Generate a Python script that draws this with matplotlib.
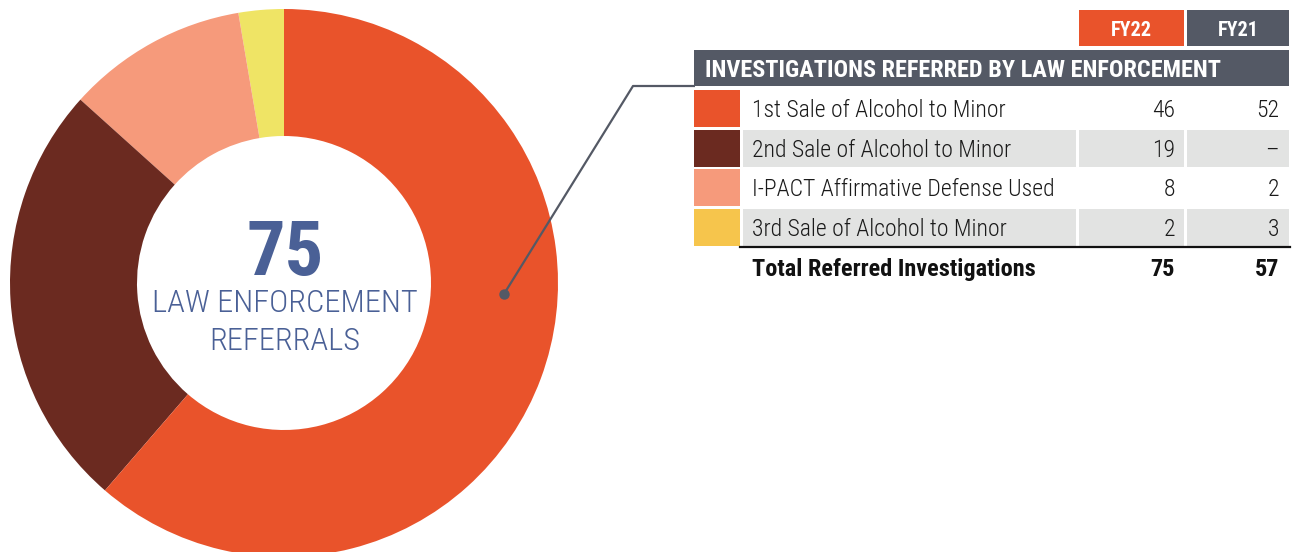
import matplotlib
matplotlib.use("Agg")
import matplotlib.pyplot as plt
from matplotlib.patches import Rectangle

# data, in table order
categories = ["1st Sale of Alcohol to Minor", "2nd Sale of Alcohol to Minor",
              "I-PACT Affirmative Defense Used", "3rd Sale of Alcohol to Minor"]
fy22 = [46, 19, 8, 2]
fy21 = [52, None, 2, 3]
years = ["FY22", "FY21"]
table_title = "INVESTIGATIONS REFERRED BY LAW ENFORCEMENT"
total_label = "Total Referred Investigations"

donut_colors = ["#E9532B", "#6B2A20", "#F69A7B", "#EFE465"]
swatch_colors = ["#E9532B", "#6B2A20", "#F69A7B", "#F6C54C"]
year_colors = ["#E9532B", "#545965"]
GRAY = "#545965"
LIGHT = "#E2E3E2"
NAVY = "#4A6096"
FONT = ["Roboto Condensed", "Archivo Narrow", "DejaVu Sans"]

W, H = 1292, 552
fig = plt.figure(figsize=(W / 100, H / 100), dpi=100)
ax = fig.add_axes([0, 0, 1, 1])


def py(y):
    # pixel row (top down) -> data y (bottom up)
    return H - y


def txt(x, y, s, size, weight="normal", color="#1a1a1a", ha="left", **kw):
    return ax.text(x, py(y), s, family=FONT, fontstretch="condensed",
                   fontsize=size, fontweight=weight, color=color, ha=ha,
                   va="baseline", **kw)


# donut, drawn counterclockwise from 12 o'clock starting with the smallest slice
ax.pie(fy22[::-1], colors=donut_colors[::-1], startangle=90, counterclock=True,
       center=(284, py(283)), radius=274,
       wedgeprops=dict(width=127, linewidth=0))
ax.set_xlim(0, W)
ax.set_ylim(0, H)
ax.set_aspect("equal")
ax.axis("off")

total22 = sum(v for v in fy22 if v is not None)
total21 = sum(v for v in fy21 if v is not None)

txt(285, 275, str(total22), 55, weight="bold", color=NAVY, ha="center")
txt(285, 312, "LAW ENFORCEMENT", 23.3, weight="light", color=NAVY, ha="center")
txt(285, 350, "REFERRALS", 23.3, weight="light", color=NAVY, ha="center")

# leader line from the big slice to the table
ax.plot([504, 633, 695], [py(294), py(86), py(86)], color=GRAY, lw=1.6,
        solid_capstyle="butt")
ax.plot([504], [py(294)], "o", color=GRAY, ms=6.5)

# table
col_x = [(1079, 1184), (1187, 1289)]
for (x0, x1), yr, c in zip(col_x, years, year_colors):
    ax.add_patch(Rectangle((x0, py(46)), x1 - x0, 36, color=c, lw=0))
    txt((x0 + x1) / 2, 36, yr, 14.5, weight="bold", color="white", ha="center")

ax.add_patch(Rectangle((694, py(86)), 595, 36, color=GRAY, lw=0))
txt(705, 77, table_title, 17.5, weight="bold", color="white")

row_top = [90, 130, 169, 209]
row_h = 36.5
for i, (cat, a, b) in enumerate(zip(categories, fy22, fy21)):
    top = row_top[i]
    base = top + 27
    ax.add_patch(Rectangle((694, py(top + row_h)), 46, row_h,
                           color=swatch_colors[i], lw=0))
    if i % 2 == 1:
        for x0, x1 in [(743, 1076), (1079, 1184), (1187, 1289)]:
            ax.add_patch(Rectangle((x0, py(top + row_h)), x1 - x0, row_h,
                                   color=LIGHT, lw=0))
    txt(752, base, cat, 17, weight="light")
    txt(1175, base, str(a) if a is not None else "\u2013", 17, weight="light", ha="right")
    txt(1279, base, str(b) if b is not None else "\u2013", 17, weight="light", ha="right")

ax.plot([740, 1290], [py(246.5), py(246.5)], color="#111111", lw=1.6)
tb = 276
txt(752, tb, total_label, 17.5, weight="bold", color="#111111")
txt(1175, tb, str(total22), 17.5, weight="bold", color="#111111", ha="right")
txt(1279, tb, str(total21), 17.5, weight="bold", color="#111111", ha="right")

fig.savefig("out.png", dpi=100, facecolor="white")
